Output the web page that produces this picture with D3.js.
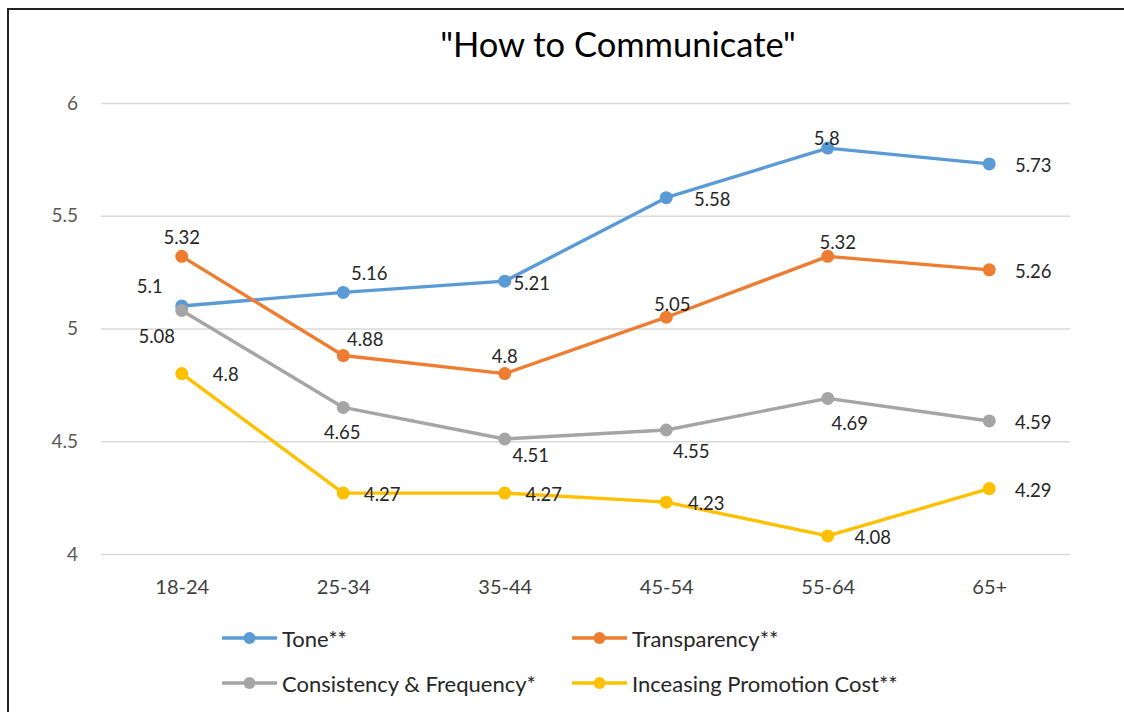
<!DOCTYPE html>
<html>
<head>
<meta charset="utf-8">
<script src="https://cdn.jsdelivr.net/npm/d3@7"></script>
<style>
  html, body { margin: 0; padding: 0; background: #fff; }
  svg { display: block; font-family: Lato, "Open Sans", sans-serif; }
</style>
</head>
<body>
<svg id="chart" width="1124" height="712"></svg>
<script>
// ---- data ----
const title = '"How to Communicate"';
const categories = ["18-24", "25-34", "35-44", "45-54", "55-64", "65+"];
const yTicks = [4, 4.5, 5, 5.5, 6];
const seriesNames = ["Tone**", "Transparency**", "Consistency & Frequency*", "Inceasing Promotion Cost**"];
const toneValues = [5.1, 5.16, 5.21, 5.58, 5.8, 5.73];
const transparencyValues = [5.32, 4.88, 4.8, 5.05, 5.32, 5.26];
const consistencyValues = [5.08, 4.65, 4.51, 4.55, 4.69, 4.59];
const promotionValues = [4.8, 4.27, 4.27, 4.23, 4.08, 4.29];

// ---- styles ----
const colors = ["#5B9BD5", "#ED7D31", "#A5A5A5", "#FFC000"];
// label offsets (dx, dy) relative to the point, per series / point
const labelOffsets = [
  [[-32,-20],[26,-19],[27,2],[46,1],[-1,-10],[44,1]],
  [[0,-19],[22,-17],[0,-18],[6,-13],[10,-14],[44,1]],
  [[-25,26],[-1,25],[26,16],[25,21],[22,25],[44,1]],
  [[44,0],[39,1],[39,1],[40,1],[45,1],[44,1]]
];

const seriesValues = [toneValues, transparencyValues, consistencyValues, promotionValues];
const series = seriesNames.map((name, i) => ({ name, color: colors[i], values: seriesValues[i], offsets: labelOffsets[i] }));

const svg = d3.select("#chart");

// outer border
svg.append("rect")
  .attr("x", 8).attr("y", 9).attr("width", 1300).attr("height", 900)
  .attr("fill", "none").attr("stroke", "#222").attr("stroke-width", 2);

const plot = { left: 101, right: 1070, top: 103, bottom: 554 };

const x = d3.scalePoint().domain(categories).range([plot.left, plot.right]).padding(0.5);
const y = d3.scaleLinear().domain([4, 6]).range([plot.bottom, plot.top]);

// title
svg.append("text")
  .attr("x", 618).attr("y", 57)
  .attr("text-anchor", "middle")
  .attr("font-size", 34.5).attr("fill", "#000")
  .text(title);

// grid
const yAxis = d3.axisLeft(y).tickValues(yTicks).tickSize(-(plot.right - plot.left)).tickPadding(23).tickFormat(d3.format("~g"));
const gy = svg.append("g").attr("transform", `translate(${plot.left},0)`).call(yAxis);
gy.select(".domain").remove();
gy.selectAll(".tick line").attr("stroke", "#D9D9D9").attr("stroke-width", 1.5);
gy.selectAll(".tick text").attr("font-size", 19).attr("fill", "#595959").attr("font-family", "Lato, sans-serif");

// x axis labels
const xAxis = d3.axisBottom(x).tickSize(0).tickPadding(26);
const gx = svg.append("g").attr("transform", `translate(0,${plot.bottom})`).call(xAxis);
gx.select(".domain").remove();
gx.selectAll(".tick text").attr("font-size", 20).attr("fill", "#404040").attr("font-family", "Lato, sans-serif");

// lines
const line = d3.line().x((d, i) => x(categories[i])).y(d => y(d));
const gSeries = svg.append("g").selectAll("g").data(series).join("g");
gSeries.append("path")
  .attr("d", d => line(d.values))
  .attr("fill", "none").attr("stroke", d => d.color).attr("stroke-width", 3.4)
  .attr("stroke-linejoin", "round");
gSeries.selectAll("circle").data(d => d.values.map(v => ({ v, c: d.color }))).join("circle")
  .attr("cx", (d, i) => x(categories[i])).attr("cy", d => y(d.v))
  .attr("r", 6.5).attr("fill", d => d.c);

// data labels
gSeries.each(function (s) {
  d3.select(this).selectAll("text.lbl").data(s.values).join("text")
    .attr("class", "lbl")
    .attr("x", (d, i) => x(categories[i]) + s.offsets[i][0])
    .attr("y", (d, i) => y(d) + s.offsets[i][1])
    .attr("text-anchor", "middle").attr("dominant-baseline", "central")
    .attr("font-size", 18.5).attr("fill", "#262626")
    .text(d => d3.format("~g")(d));
});

// legend
const legendPos = [[222, 638], [572, 638], [222, 683], [572, 683]];
const lg = svg.append("g").selectAll("g").data(series).join("g")
  .attr("transform", (d, i) => `translate(${legendPos[i][0]},${legendPos[i][1]})`);
lg.append("line").attr("x1", 0).attr("x2", 55).attr("y1", 0).attr("y2", 0)
  .attr("stroke", d => d.color).attr("stroke-width", 3.4);
lg.append("circle").attr("cx", 27.5).attr("cy", 0).attr("r", 6).attr("fill", d => d.color);
lg.append("text").attr("x", 60).attr("y", 0).attr("dominant-baseline", "central")
  .attr("font-size", 22).attr("fill", "#262626").text(d => d.name);
</script>
</body>
</html>
